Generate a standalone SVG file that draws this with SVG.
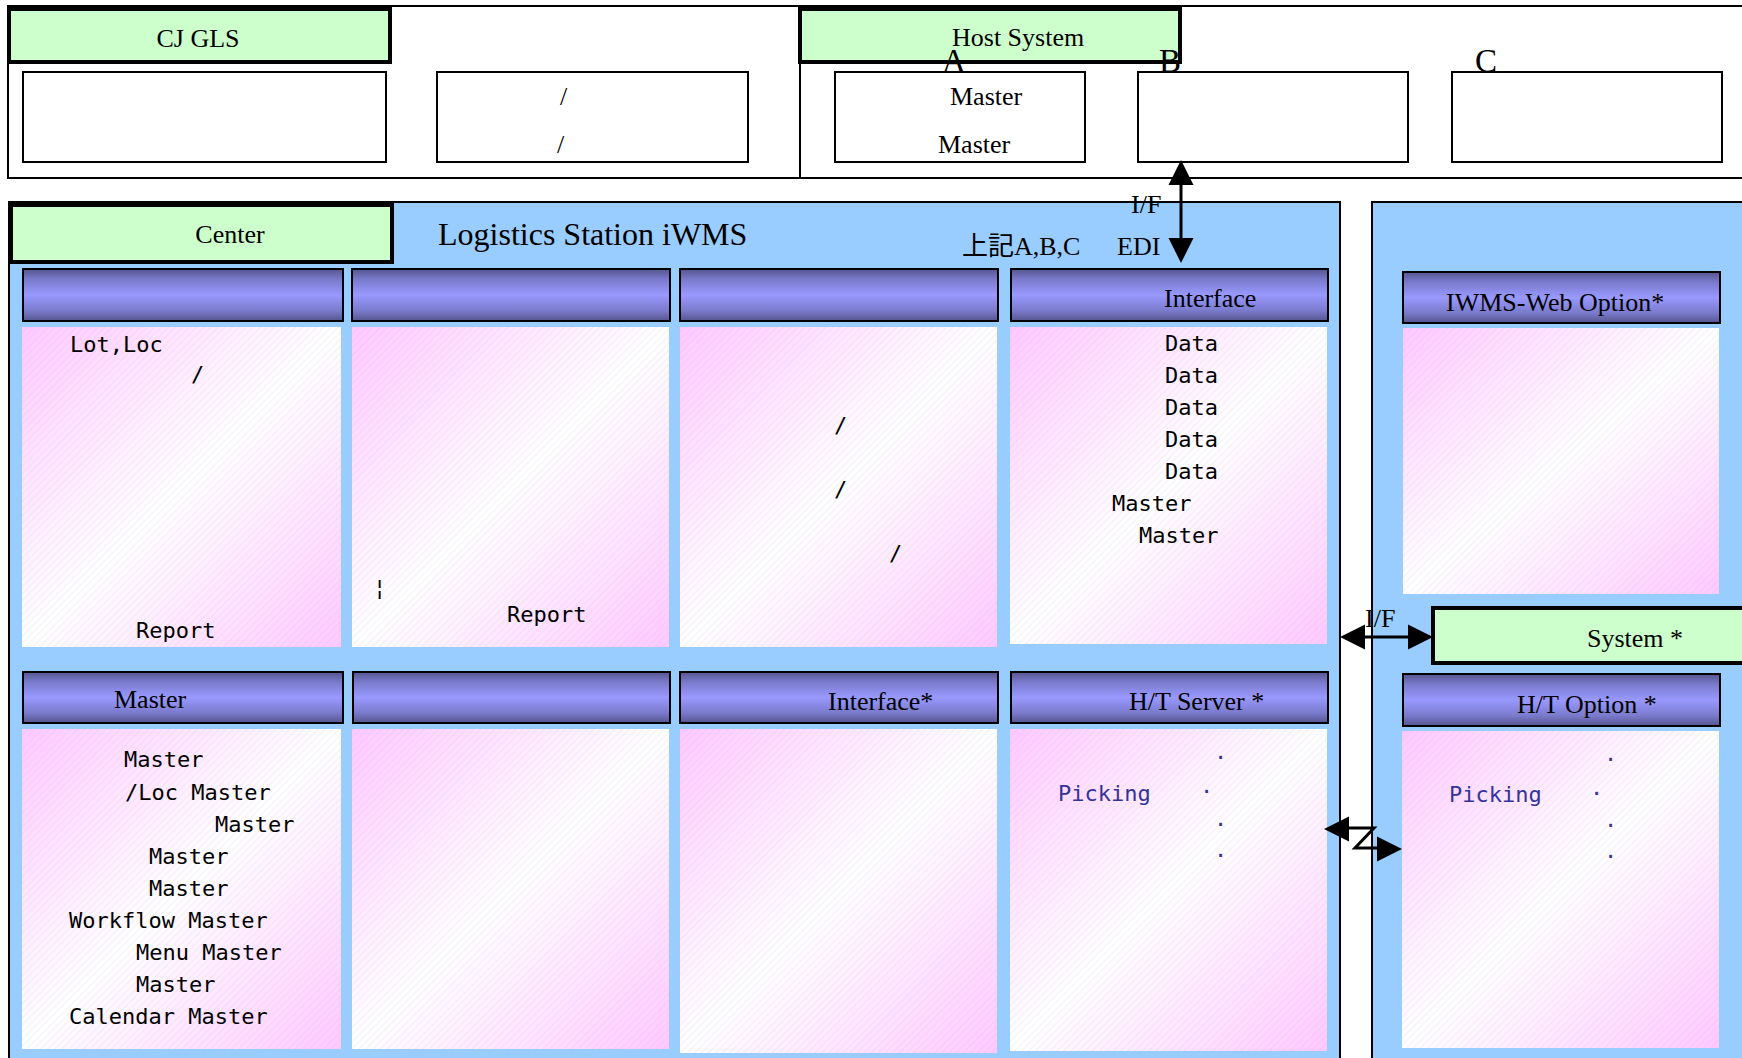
<svg xmlns="http://www.w3.org/2000/svg" width="1742" height="1058" viewBox="0 0 1742 1058">
<style>
.box{fill:#fff;stroke:#000;stroke-width:2}
.green{fill:#CCFFCC;stroke:#000;stroke-width:4}
.panel{fill:#99CCFF;stroke:#000;stroke-width:2}
.hdr{fill:url(#hdr);stroke:#000;stroke-width:2}
.cnt{fill:url(#cnt)}
.hatch{fill:url(#hatch)}
.serif{font-family:"Liberation Serif","Noto Sans CJK JP",serif;font-size:26px;fill:#000}
.big{font-size:33px}
.title{font-size:32px}
.mono{font-family:"DejaVu Sans Mono",monospace;font-size:22px;fill:#000}
.blue{fill:#333399}
.conn{fill:none;stroke:#000;stroke-width:3}
</style>
<defs>
<linearGradient id="hdr" x1="0" y1="0" x2="0" y2="1">
<stop offset="0" stop-color="#55558f"/>
<stop offset="0.2" stop-color="#7a7acc"/>
<stop offset="0.5" stop-color="#9999ff"/>
<stop offset="0.8" stop-color="#7a7acc"/>
<stop offset="1" stop-color="#55558f"/>
</linearGradient>
<linearGradient id="cnt" x1="0" y1="0" x2="1" y2="1">
<stop offset="0" stop-color="#ffc8ff"/>
<stop offset="0.5" stop-color="#ffffff"/>
<stop offset="1" stop-color="#ffc8ff"/>
</linearGradient>
<pattern id="hatch" width="5" height="5" patternUnits="userSpaceOnUse" patternTransform="rotate(45)">
<line x1="0" y1="0" x2="0" y2="5" stroke="#b8b8e0" stroke-width="1" opacity="0.35"/>
</pattern>
<marker id="ah" markerUnits="userSpaceOnUse" markerWidth="26" markerHeight="26" refX="25" refY="12.5" orient="auto-start-reverse" viewBox="0 0 26 26">
<path d="M0,0 L25,12.5 L0,25 z" fill="#000"/>
</marker>
</defs>

<!-- top area -->
<g id="top-frame">
<rect x="8" y="6" width="1745" height="172" fill="#fff" stroke="#000" stroke-width="2"/>
<line x1="800" y1="6" x2="800" y2="178" stroke="#000" stroke-width="2"/>
</g>
<g id="cjgls">
<rect class="green" x="9" y="9" width="381" height="53"/>
<text class="serif" x="198" y="47" text-anchor="middle">CJ GLS</text>
</g>
<g id="cj-box1"><rect class="box" x="23" y="72" width="363" height="90"/></g>
<g id="cj-box2">
<rect class="box" x="437" y="72" width="311" height="90"/>
<text class="serif" x="560" y="105">/</text>
<text class="serif" x="557" y="153">/</text>
</g>
<g id="host">
<rect class="green" x="800" y="9" width="380" height="53"/>
<text class="serif" x="952" y="46">Host System</text>
</g>
<g id="host-a">
<rect class="box" x="835" y="72" width="250" height="90"/>
<text class="serif" x="950" y="105">Master</text>
<text class="serif" x="938" y="153">Master</text>
<text class="serif big" x="942" y="72">A</text>
</g>
<g id="host-b">
<rect class="box" x="1138" y="72" width="270" height="90"/>
<text class="serif big" x="1159" y="72">B</text>
</g>
<g id="host-c">
<rect class="box" x="1452" y="72" width="270" height="90"/>
<text class="serif big" x="1475" y="72">C</text>
</g>

<!-- main panel -->
<g id="iwms">
<rect class="panel" x="9" y="202" width="1331" height="870"/>
<text class="serif title" x="438" y="245">Logistics Station iWMS</text>
<text class="serif" x="962" y="255">上記A,B,C</text>
<text class="serif" x="1117" y="255">EDI</text>
</g>
<g id="center">
<rect class="green" x="11" y="205" width="381" height="57"/>
<text class="serif" x="230" y="243" text-anchor="middle">Center</text>
</g>

<!-- row 1 -->
<g id="c1r1">
<rect class="hdr" x="23" y="269" width="320" height="52"/>
<rect class="cnt" x="22" y="327" width="319" height="320"/>
<rect class="hatch" x="22" y="327" width="319" height="320"/>
<text class="mono" x="70" y="352">Lot,Loc</text>
<text class="mono" x="191" y="382">/</text>
<text class="mono" x="136" y="638">Report</text>
</g>
<g id="c2r1">
<rect class="hdr" x="352" y="269" width="318" height="52"/>
<rect class="cnt" x="352" y="327" width="317" height="320"/>
<rect class="hatch" x="352" y="327" width="317" height="320"/>
<text class="mono" x="373" y="595">¦</text>
<text class="mono" x="507" y="622">Report</text>
</g>
<g id="c3r1">
<rect class="hdr" x="680" y="269" width="318" height="52"/>
<rect class="cnt" x="680" y="327" width="317" height="320"/>
<rect class="hatch" x="680" y="327" width="317" height="320"/>
<text class="mono" x="834" y="433">/</text>
<text class="mono" x="834" y="497">/</text>
<text class="mono" x="889" y="561">/</text>
</g>
<g id="c4r1">
<rect class="hdr" x="1011" y="269" width="317" height="52"/>
<text class="serif" x="1164" y="307">Interface</text>
<rect class="cnt" x="1010" y="327" width="317" height="317"/>
<rect class="hatch" x="1010" y="327" width="317" height="317"/>
<text class="mono" x="1165" y="351">Data</text>
<text class="mono" x="1165" y="383">Data</text>
<text class="mono" x="1165" y="415">Data</text>
<text class="mono" x="1165" y="447">Data</text>
<text class="mono" x="1165" y="479">Data</text>
<text class="mono" x="1112" y="511">Master</text>
<text class="mono" x="1139" y="543">Master</text>
</g>

<!-- row 2 -->
<g id="c1r2">
<rect class="hdr" x="23" y="672" width="320" height="51"/>
<text class="serif" x="114" y="708">Master</text>
<rect class="cnt" x="22" y="729" width="319" height="320"/>
<rect class="hatch" x="22" y="729" width="319" height="320"/>
<text class="mono" x="124" y="767">Master</text>
<text class="mono" x="125" y="800">/Loc Master</text>
<text class="mono" x="215" y="832">Master</text>
<text class="mono" x="149" y="864">Master</text>
<text class="mono" x="149" y="896">Master</text>
<text class="mono" x="69" y="928">Workflow Master</text>
<text class="mono" x="136" y="960">Menu Master</text>
<text class="mono" x="136" y="992">Master</text>
<text class="mono" x="69" y="1024">Calendar Master</text>
</g>
<g id="c2r2">
<rect class="hdr" x="353" y="672" width="317" height="51"/>
<rect class="cnt" x="352" y="729" width="317" height="320"/>
<rect class="hatch" x="352" y="729" width="317" height="320"/>
</g>
<g id="c3r2">
<rect class="hdr" x="680" y="672" width="318" height="51"/>
<text class="serif" x="828" y="710">Interface*</text>
<rect class="cnt" x="680" y="729" width="317" height="324"/>
<rect class="hatch" x="680" y="729" width="317" height="324"/>
</g>
<g id="c4r2">
<rect class="hdr" x="1011" y="672" width="317" height="51"/>
<text class="serif" x="1129" y="710">H/T Server *</text>
<rect class="cnt" x="1010" y="729" width="317" height="322"/>
<rect class="hatch" x="1010" y="729" width="317" height="322"/>
<text class="mono blue" x="1058" y="801">Picking</text>
<text class="mono blue" x="1214" y="765">·</text>
<text class="mono blue" x="1200" y="799">·</text>
<text class="mono blue" x="1214" y="832">·</text>
<text class="mono blue" x="1214" y="863">·</text>
</g>

<!-- right panel -->
<g id="right-panel">
<rect class="panel" x="1372" y="202" width="380" height="870"/>
</g>
<g id="web-option">
<rect class="hdr" x="1403" y="272" width="317" height="51"/>
<text class="serif" x="1446" y="311">IWMS-Web Option*</text>
<rect class="cnt" x="1403" y="328" width="316" height="266"/>
<rect class="hatch" x="1403" y="328" width="316" height="266"/>
</g>
<g id="system">
<rect class="green" x="1433" y="608" width="320" height="55"/>
<text class="serif" x="1587" y="647">System *</text>
</g>
<g id="ht-option">
<rect class="hdr" x="1403" y="674" width="317" height="52"/>
<text class="serif" x="1517" y="713">H/T Option *</text>
<rect class="cnt" x="1402" y="731" width="317" height="317"/>
<rect class="hatch" x="1402" y="731" width="317" height="317"/>
<text class="mono blue" x="1449" y="802">Picking</text>
<text class="mono blue" x="1604" y="767">·</text>
<text class="mono blue" x="1590" y="801">·</text>
<text class="mono blue" x="1604" y="833">·</text>
<text class="mono blue" x="1604" y="864">·</text>
</g>

<!-- connectors -->
<g id="connectors">
<line class="conn" x1="1181" y1="185" x2="1181" y2="238"/>
<path d="M1181,160 L1193.5,185 L1168.5,185 z" fill="#000"/>
<path d="M1181,263 L1193.5,238 L1168.5,238 z" fill="#000"/>
<text class="serif" x="1131" y="213">I/F</text>
<line class="conn" x1="1364" y1="637" x2="1409" y2="637"/>
<path d="M1340,637 L1365,624.5 L1365,649.5 z" fill="#000"/>
<path d="M1433,637 L1408,624.5 L1408,649.5 z" fill="#000"/>
<text class="serif" x="1365" y="627">I/F</text>
<path class="conn" d="M1347,828 L1374,828 L1355,848 L1378,848"/>
<path d="M1324,829 L1349,816.5 L1349,841.5 z" fill="#000"/>
<path d="M1402,849 L1377,836.5 L1377,861.5 z" fill="#000"/>
</g>
</svg>
